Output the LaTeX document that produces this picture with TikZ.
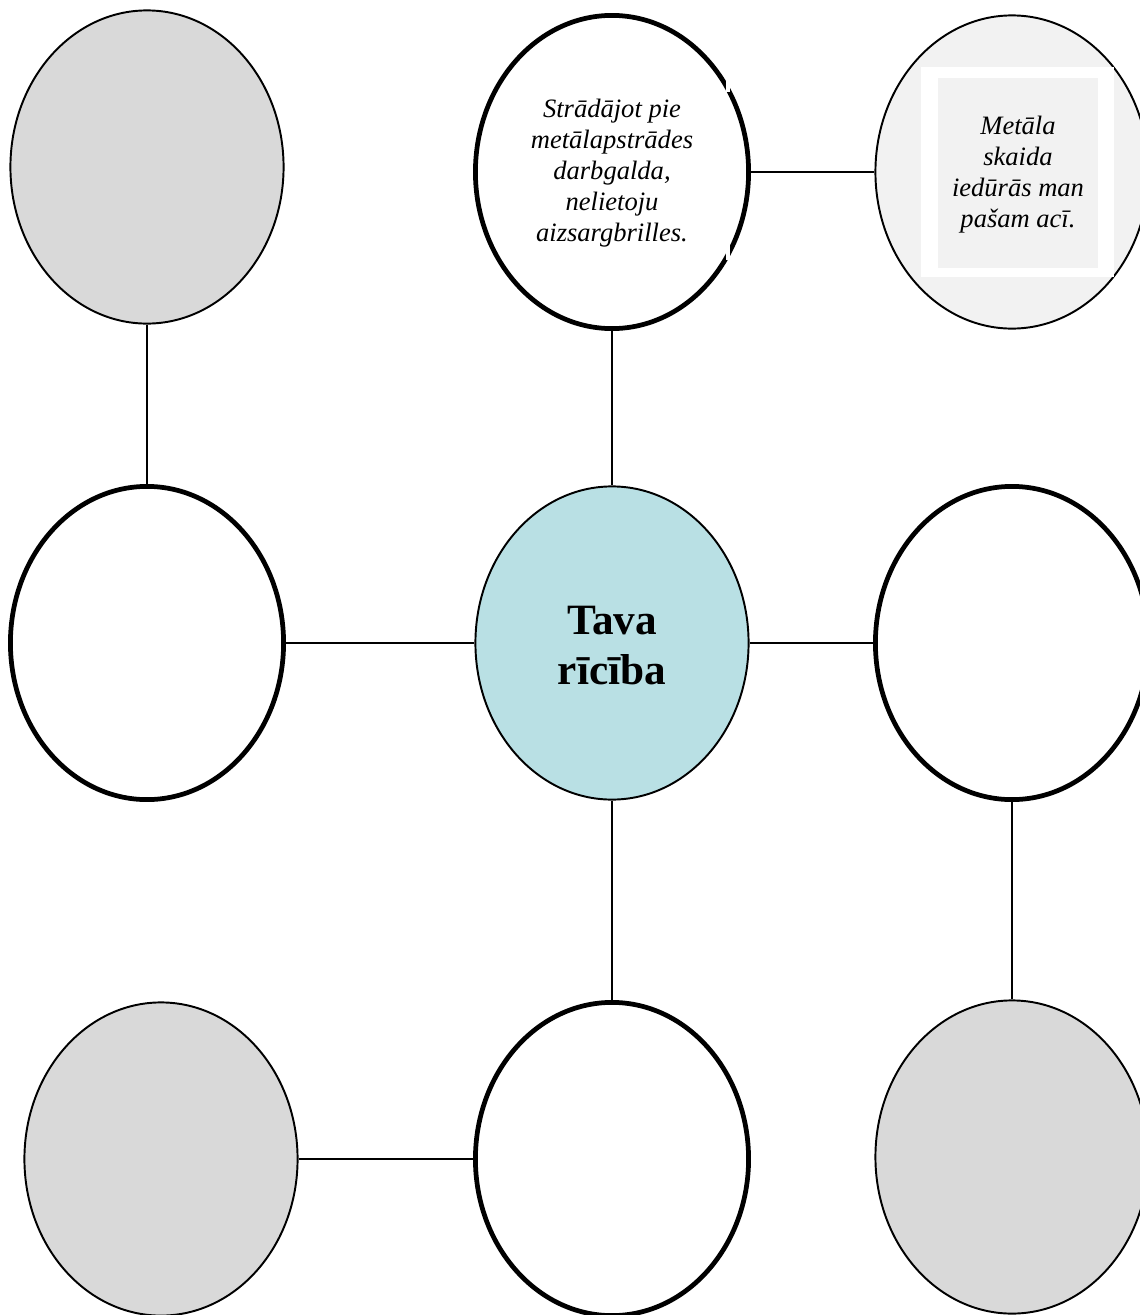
\documentclass[tikz,border=0pt]{standalone}
\usepackage{fontspec}
\setmainfont{Liberation Serif}
\usetikzlibrary{shapes.geometric}
\definecolor{bubgray}{HTML}{D9D9D9}
\definecolor{bubteal}{HTML}{B9E0E4}
\definecolor{bublight}{HTML}{F2F2F2}
\tikzset{
  bub/.style={ellipse, inner sep=0pt, minimum width=2.73cm, minimum height=3.13cm},
  graybub/.style={bub, draw=black, line width=0.55pt, fill=bubgray},
  thickbub/.style={bub, draw=black, line width=1.35pt, fill=white},
  centerbub/.style={bub, draw=black, line width=0.55pt, fill=bubteal},
  lightbub/.style={bub, draw=black, line width=0.55pt, fill=bublight},
  conn/.style={draw=black, line width=0.5pt},
  smalltext/.style={align=center, font=\itshape\fontsize{7.55}{8.8}\selectfont, inner sep=0pt},
  bigtext/.style={align=center, font=\bfseries\fontsize{12.3}{14.2}\selectfont, inner sep=0pt}
}
\begin{document}
\begin{tikzpicture}[x=0.01cm,y=-0.01cm]
\useasboundingbox (0,0) rectangle (1140,1315);
\clip (0,0) rectangle (1140,1315);
\fill[white] (0,0) rectangle (1140,1315);
% bubbles
\node[graybub] (tl) at (147,167) {};
\node[thickbub] (tm) at (612,172) {};
\node[lightbub] (tr) at (1012,172) {};
\node[thickbub] (ml) at (147,643) {};
\node[centerbub] (c) at (612,643) {};
\node[thickbub] (mr) at (1012,643) {};
\node[graybub] (bl) at (161,1159) {};
\node[thickbub] (bm) at (612,1159) {};
\node[graybub] (br) at (1012,1157) {};
% small white notches on top-middle bubble
\fill[white] (726,81) rectangle (730,92);
\fill[white] (726,244) rectangle (730,260);
% text box inside top-right bubble
\fill[white] (921,67) rectangle (1114,277);
\fill[bublight] (938,78) rectangle (1098,268);
% connectors
\draw[conn] (tl.south) -- (ml.north);
\draw[conn] (tm.south) -- (c.north);
\draw[conn] (tm.east) -- (tr.west);
\draw[conn] (ml.east) -- (c.west);
\draw[conn] (c.east) -- (mr.west);
\draw[conn] (c.south) -- (bm.north);
\draw[conn] (mr.south) -- (br.north);
\draw[conn] (bl.east) -- (bm.west);
% texts
\node[smalltext] (t1) at (612,173) {Strādājot pie\\metālapstrādes\\darbgalda,\\nelietoju\\aizsargbrilles.};
\node[smalltext] (t2) at (1018,175) {Metāla\\skaida\\iedūrās man\\pašam acī.};
\node[bigtext] (t3) at (612,646) {Tava\\rīcība};
\end{tikzpicture}
\end{document}
